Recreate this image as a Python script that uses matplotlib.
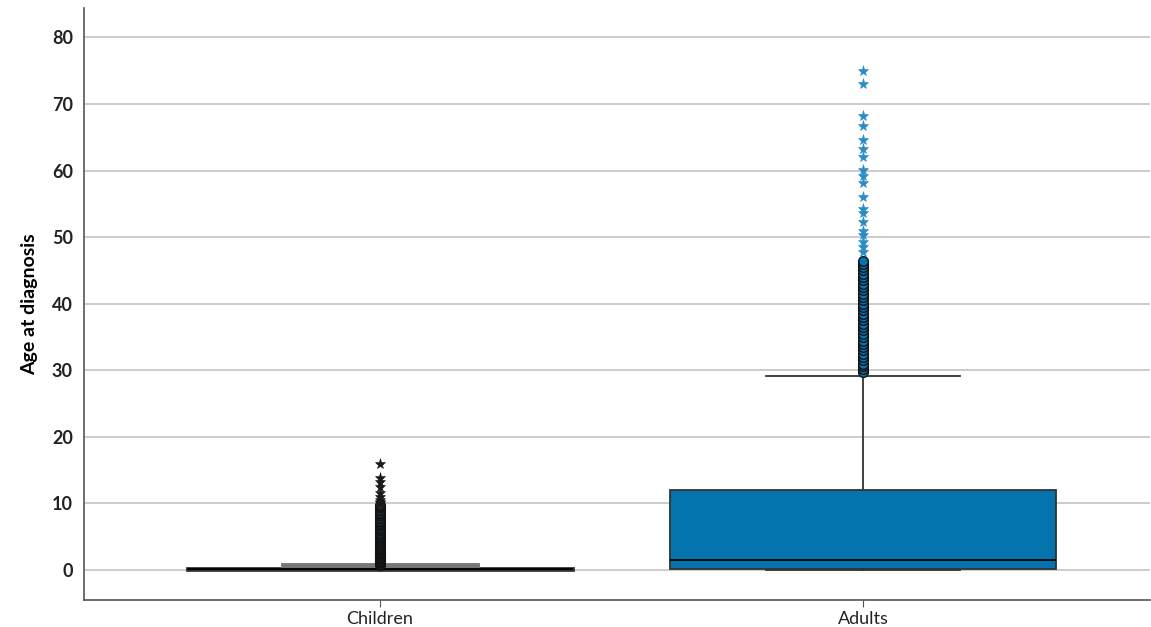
import matplotlib
matplotlib.use("Agg")
import matplotlib.pyplot as plt

categories = ["Children", "Adults"]
q1 = [0.0, 0.2]
median = [0.1, 1.5]
q3 = [0.3, 12.0]
whisker_low = [0.0, 0.0]
whisker_high = [0.8, 29.2]

children_outliers = [0.8, 1.0, 1.2, 1.4, 1.6, 1.8, 2.0, 2.2, 2.5, 2.7, 3.0, 3.2, 3.5, 3.8,
                     4.0, 4.3, 4.6, 5.0, 5.3, 5.6, 6.0, 6.3, 6.7, 7.0, 7.4, 7.8, 8.2, 8.6,
                     9.0, 9.4, 9.7]
children_extremes = [10.0, 10.3, 10.6, 11.0, 11.6, 12.5, 13.2, 13.8, 15.9]
adults_outliers = [29.8, 30.2, 30.6, 31.0, 31.5, 32.0, 32.4, 33.0, 33.5, 34.0, 34.4, 35.0,
                   35.5, 36.0, 36.5, 37.0, 37.5, 38.0, 38.5, 39.0, 39.5, 40.0, 40.5, 41.0,
                   41.5, 42.0, 42.5, 43.0, 43.5, 44.0, 44.5, 45.0, 45.5, 46.0, 46.4]
adults_extremes = [47.8, 48.5, 49.3, 50.3, 51.0, 52.3, 53.6, 54.2, 56.1, 58.1, 59.2, 60.1,
                   62.1, 63.2, 64.6, 66.7, 68.2, 73.0, 75.0]

outliers = [children_outliers, adults_outliers]
extremes = [children_extremes, adults_extremes]
y_ticks = [0, 10, 20, 30, 40, 50, 60, 70, 80]

box_colors = ["#1c2833", "#0474ae"]
flier_face = ["#1c2833", "#0474ae"]
star_colors = ["#1a1a1a", "#2a8cc4"]

plt.rcParams["font.family"] = ["Lato", "DejaVu Sans"]

fig = plt.figure(figsize=(11.51, 6.27), dpi=100)
ax = fig.add_axes([0.073, 0.043, 0.926, 0.944])

positions = [1, 2]
stats = []
for i, c in enumerate(categories):
    stats.append(dict(label=c, q1=q1[i], med=median[i], q3=q3[i],
                      whislo=whisker_low[i], whishi=whisker_high[i], fliers=[]))

bp = ax.bxp(stats, positions=positions, widths=0.8, patch_artist=True,
            showfliers=False, capwidths=0.4,
            medianprops=dict(color="black", linewidth=1.3),
            whiskerprops=dict(color="#333333", linewidth=1.3),
            capprops=dict(color="#333333", linewidth=1.3),
            boxprops=dict(edgecolor="#333333", linewidth=1.3), zorder=3)
for patch, col in zip(bp["boxes"], box_colors):
    patch.set_facecolor(col)
bp["boxes"][0].set_linewidth(2.0)
bp["caps"][1].set_color("#777777")
bp["caps"][1].set_linewidth(3.5)

for i, p in enumerate(positions):
    ax.plot([p] * len(outliers[i]), outliers[i], linestyle="none", marker="o",
            markersize=7, markerfacecolor=flier_face[i], markeredgecolor="#111111",
            markeredgewidth=1.0, zorder=4)
    ax.plot([p] * len(extremes[i]), extremes[i], linestyle="none", marker="*",
            markersize=8, markerfacecolor=star_colors[i], markeredgecolor=star_colors[i],
            markeredgewidth=0.4, zorder=4)

ax.set_xlim(0.387, 2.594)
ax.set_ylim(-4.5, 84.4)
ax.set_yticks(y_ticks)
ax.set_xticks(positions)
ax.set_xticklabels(categories, fontsize=13)
ax.set_yticklabels([str(t) for t in y_ticks], fontsize=13, fontweight="bold")
ax.tick_params(axis="y", length=0, pad=8, colors="#222222")
ax.tick_params(axis="x", length=5, pad=3, colors="#222222")
ax.tick_params(axis="x", color="#555555")
ax.yaxis.grid(True, color="#c8c8c8", linewidth=1.3, zorder=0)
ax.set_axisbelow(True)
for s in ["top", "right"]:
    ax.spines[s].set_visible(False)
for s in ["left", "bottom"]:
    ax.spines[s].set_color("#555555")
    ax.spines[s].set_linewidth(1.2)
ax.set_ylabel("Age at diagnosis", fontsize=14, fontweight="bold", labelpad=10)

fig.savefig("out.png", dpi=100)
